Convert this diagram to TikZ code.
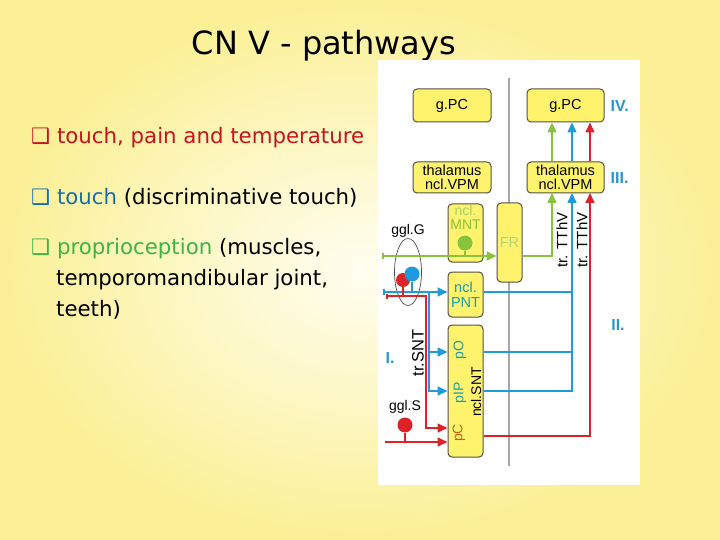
\documentclass[tikz,border=0pt]{standalone}
\usepackage{fontspec}
\setmainfont{DejaVu Sans}
\newfontfamily\diagfont{Liberation Sans}
\usetikzlibrary{arrows.meta,positioning,shapes.geometric}

\definecolor{bgyellow}{RGB}{251,240,150}
\definecolor{bglight}{RGB}{255,254,240}
\definecolor{boxyellow}{RGB}{255,243,110}
\definecolor{boxedge}{RGB}{85,80,70}
\definecolor{pgreen}{RGB}{135,195,60}
\definecolor{pblue}{RGB}{30,155,220}
\definecolor{pred}{RGB}{220,35,40}
\definecolor{lblue}{RGB}{40,150,210}
\definecolor{tealtxt}{RGB}{20,160,175}
\definecolor{orangetxt}{RGB}{205,95,20}
\definecolor{ttlred}{RGB}{200,20,30}
\definecolor{ttlblue}{RGB}{25,110,170}
\definecolor{ttlgreen}{RGB}{60,180,70}

\tikzset{
 cnbox/.style={draw=boxedge, fill=boxyellow, rounded corners=4pt, line width=1pt,
   inner sep=0pt, align=center, font=\diagfont\fontsize{14.5}{16}\selectfont},
 dlabel/.style={inner sep=1pt, font=\diagfont\fontsize{14}{16}\selectfont},
 rlabel/.style={inner sep=1pt, rotate=90, font=\diagfont\fontsize{16.5}{18}\selectfont},
 numlab/.style={inner sep=1pt, text=lblue, font=\diagfont\bfseries\fontsize{16}{18}\selectfont},
 tract/.style={line width=1.6pt},
 arr/.style={-{Triangle[length=10pt,width=9pt]}},
 soma/.style={circle, inner sep=0pt},
 bullettext/.style={anchor=west, inner sep=0pt, align=left, font=\fontsize{21.3}{31}\selectfont}
}

\begin{document}
\begin{tikzpicture}[x=1pt,y=-1pt]
 \useasboundingbox (0,0) rectangle (720,540);
 \fill[bgyellow] (0,0) rectangle (720,540);
 \shade[inner color=bglight, outer color=bgyellow] (0,0) rectangle (720,540);

 % title and legend
 \node[inner sep=0pt, font=\fontsize{32}{34}\selectfont] (title) at (324,46) {CN V - pathways};
 \node[bullettext, text=ttlred] (leg1) at (31,138) {❑ touch, pain and temperature};
 \node[bullettext] (leg2) at (31,198) {\textcolor{ttlblue}{❑ touch} (discriminative touch)};
 \node[bullettext, anchor=north west] (leg3) at (31,238)
   {\textcolor{ttlgreen}{❑ proprioception} (muscles,\\
    \hspace*{25pt}temporomandibular joint,\\
    \hspace*{25pt}teeth)};

 % panel
 \fill[white] (378,60) rectangle (640,485);
 \draw[gray!70, line width=2pt] (509,78) -- (509,466);

 % nuclei
 \node[cnbox, minimum width=78pt, minimum height=33pt] (gpcL) at (452,105.5) {g.PC};
 \node[cnbox, minimum width=77pt, minimum height=33pt] (gpcR) at (565.5,105.5) {g.PC};
 \node[cnbox, minimum width=78pt, minimum height=31pt] (vpmL) at (452,177.5) {thalamus\\[-2pt]ncl.VPM};
 \node[cnbox, minimum width=77pt, minimum height=31pt] (vpmR) at (565.5,177.5) {thalamus\\[-2pt]ncl.VPM};
 \node[cnbox, minimum width=35pt, minimum height=58pt] (mnt) at (465.5,233) {};
 \node[dlabel, align=center, text=pgreen, below=1pt of mnt.north] (mntlab) {\textcolor{pgreen!75}{ncl.}\\[-2pt]MNT};
 \node[cnbox, minimum width=25pt, minimum height=79pt, text=pgreen!70] (FR) at (509.5,242.5) {FR};
 \node[cnbox, minimum width=35pt, minimum height=45pt, text=tealtxt] (pnt) at (465.5,294.5) {ncl.\\[-1pt]PNT};
 \node[cnbox, minimum width=35pt, minimum height=132pt] (snt) at (465.5,391) {};
 \node[dlabel, rotate=90, text=tealtxt] (pO) at (460,350) {pO};
 \node[dlabel, rotate=90, text=tealtxt] (pIP) at (460,393) {pIP};
 \node[dlabel, rotate=90, text=orangetxt] (pC) at (459,433) {pC};
 \node[dlabel, rotate=90] (sntlab) at (476,392) {ncl.SNT};

 \node[numlab, right=5pt of gpcR] (lIV) {IV.};
 \node[numlab, right=5pt of vpmR] (lIII) {III.};
 \node[numlab] (lII) at (618,325) {II.};
 \node[numlab] (lI) at (390,358) {I.};

 % ganglia
 \node[draw=black!70, ellipse, line width=0.7pt, minimum width=27pt, minimum height=67pt] (gG) at (408,272) {};
 \node[dlabel, above=0pt of gG] (gGlab) {ggl.G};
 \node[dlabel] (gSlab) at (405,407) {ggl.S};
 \node[rlabel] (tSNT) at (418,353) {tr.SNT};
 \node[rlabel, font=\diagfont\fontsize{15}{17}\selectfont] (tTh1) at (562,240) {tr. TThV};
 \node[rlabel, font=\diagfont\fontsize{15}{17}\selectfont] (tTh2) at (582,240) {tr. TThV};

 \coordinate (vg) at (552,193);
 \coordinate (vb) at (572,193);
 \coordinate (vr) at (590,193);
 \coordinate (gin) at (382,256);
 \coordinate (bin) at (383,292);
 \coordinate (rin) at (386,296);
 \coordinate (sin) at (385,442);
 \coordinate (rdn) at (426,296);
 \coordinate (bdn) at (429,292);
 \coordinate (yO) at (0,352);
 \coordinate (yIP) at (0,391);
 \coordinate (yC) at (0,428);
 \coordinate (yout) at (0,436);

 % green: proprioception
 \draw[tract, pgreen, {Bar[width=6pt]}-{Triangle[length=10pt,width=9pt]}] (gin) -- (gin -| FR.west);
 \draw[tract, pgreen, arr] (FR.east |- gin) -| (vg);
 \node[soma, fill=pgreen, minimum size=15pt] (mntsoma) at (465,243) {};
 \draw[tract, pgreen] (mntsoma) -- (mntsoma |- gin);

 % blue: discriminative touch
 \draw[tract, pblue, {Bar[width=6pt]}-{Triangle[length=10pt,width=9pt]}] (bin) -- (bin -| pnt.west);
 \draw[tract, pblue] (bin -| pnt.east) -- (bin -| vb);
 \draw[tract, pblue, arr] (bdn) |- (snt.west |- yIP);
 \draw[tract, pblue, arr] (bdn |- yO) -- (snt.west |- yO);
 \draw[tract, pblue] (snt.east |- yO) -- (vb |- yO);
 \draw[tract, pblue, arr] (snt.east |- yIP) -| (vb);

 % red: pain and temperature
 \draw[tract, pred, {Bar[width=5pt]}-{Triangle[length=10pt,width=9pt]}] (rin) -- (rdn) |- (snt.west |- yC);
 \draw[tract, pred, arr] (sin) -- (snt.west |- sin);
 \draw[tract, pred, arr] (snt.east |- yout) -| (vr);

 \node[soma, fill=pred, minimum size=14pt] (gGred) at (403,280) {};
 \draw[tract, pred] (gGred) -- (gGred |- rin);
 \node[soma, fill=pblue, minimum size=15pt] (gGblue) at (412,274) {};
 \draw[tract, pblue] (gGblue) -- (gGblue |- bin);
 \node[soma, fill=pred, minimum size=15pt] (gSred) at (405,425) {};
 \draw[tract, pred] (gSred) -- (gSred |- sin);

 % thalamus to cortex
 \draw[tract, pgreen, arr] (vg |- vpmR.north) -- (vg |- gpcR.south);
 \draw[tract, pblue, arr] (vb |- vpmR.north) -- (vb |- gpcR.south);
 \draw[tract, pred, arr] (vr |- vpmR.north) -- (vr |- gpcR.south);
\end{tikzpicture}
\end{document}
